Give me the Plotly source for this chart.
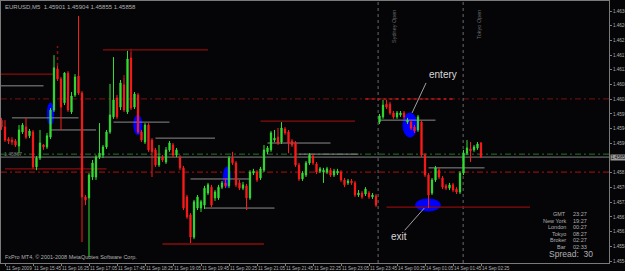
import plotly.graph_objects as go

# ---------------- data (EURUSD, M5) ----------------
OPEN = [1.45971,1.45950,1.45913,1.45910,1.45907,1.45892,1.45935,1.45950,1.45923,1.45935,
        1.45828,1.45855,1.45895,1.45889,1.45919,1.46002,1.46128,1.46097,1.46024,1.46115,
        1.45996,1.46048,1.46106,1.46054,1.45736,1.45733,1.45797,1.45797,1.45858,1.45864,
        1.45889,1.45935,1.45981,1.46039,1.46011,1.46079,1.45996,1.46161,1.46011,1.46048,
        1.45935,1.45904,1.45956,1.45910,1.45880,1.45834,1.45858,1.45843,1.45880,1.45895,
        1.45864,1.45858,1.45825,1.45736,1.45681,1.45613,1.45702,1.45702,1.45711,1.45748,
        1.45766,1.45733,1.45733,1.45766,1.45779,1.45770,1.45855,1.45840,1.45779,1.45763,
        1.45770,1.45733,1.45809,1.45812,1.45794,1.45818,1.45874,1.45880,1.45910,1.45919,
        1.45904,1.45944,1.45935,1.45907,1.45901,1.45834,1.45791,1.45803,1.45840,1.45861,
        1.45837,1.45815,1.45812,1.45812,1.45818,1.45803,1.45809,1.45812,1.45788,1.45779,
        1.45785,1.45779,1.45742,1.45748,1.45745,1.45748,1.45736,1.45739,1.45965,1.45981,
        1.46020,1.46020,1.45993,1.45981,1.45987,1.45993,1.45965,1.45965,1.45950,1.45941,
        1.45965,1.45864,1.45803,1.45748,1.45788,1.45818,1.45794,1.45770,1.45763,1.45773,
        1.45760,1.45751,1.45809,1.45870,1.45883,1.45880,1.45886,1.45901]
HIGH = [1.45978,1.45971,1.45919,1.45919,1.45913,1.45956,1.45962,1.45978,1.45944,1.45941,
        1.45861,1.45941,1.45898,1.45932,1.46008,1.46170,1.46137,1.46103,1.46118,1.46121,
        1.46057,1.46112,1.46290,1.46060,1.45742,1.45809,1.45849,1.45864,1.45962,1.45895,
        1.45941,1.46082,1.46164,1.46048,1.46094,1.46100,1.46183,1.46180,1.46057,1.46054,
        1.45941,1.45962,1.45962,1.45916,1.45886,1.45895,1.45864,1.45889,1.45907,1.45901,
        1.45886,1.45864,1.45831,1.45742,1.45687,1.45727,1.45742,1.45727,1.45770,1.45779,
        1.45773,1.45757,1.45773,1.45785,1.45794,1.45861,1.45874,1.45846,1.45788,1.45782,
        1.45776,1.45818,1.45822,1.45818,1.45828,1.45895,1.45892,1.45938,1.45941,1.45947,
        1.45965,1.45950,1.45941,1.45913,1.45907,1.45840,1.45815,1.45846,1.45870,1.45867,
        1.45843,1.45828,1.45825,1.45828,1.45825,1.45822,1.45822,1.45818,1.45794,1.45791,
        1.45791,1.45785,1.45757,1.45754,1.45766,1.45754,1.45748,1.45745,1.45990,1.46033,
        1.46033,1.46027,1.45999,1.45999,1.45999,1.45999,1.45978,1.45971,1.45956,1.45987,
        1.45971,1.45870,1.45809,1.45794,1.45831,1.45825,1.45800,1.45776,1.45779,1.45779,
        1.45766,1.45815,1.45880,1.45910,1.45904,1.45895,1.45904,1.45904]
LOW = [1.45941,1.45904,1.45898,1.45895,1.45889,1.45870,1.45929,1.45913,1.45916,1.45822,
       1.45818,1.45849,1.45880,1.45883,1.45913,1.45996,1.46091,1.45941,1.46017,1.45996,
       1.45990,1.46042,1.46048,1.45598,1.45711,1.45552,1.45788,1.45788,1.45852,1.45855,
       1.45883,1.45929,1.45975,1.45975,1.46002,1.45996,1.45990,1.46002,1.46005,1.45929,
       1.45904,1.45898,1.45874,1.45797,1.45828,1.45828,1.45843,1.45837,1.45874,1.45858,
       1.45858,1.45818,1.45696,1.45669,1.45595,1.45607,1.45696,1.45690,1.45699,1.45742,
       1.45705,1.45724,1.45727,1.45760,1.45763,1.45763,1.45834,1.45766,1.45757,1.45757,
       1.45696,1.45727,1.45803,1.45782,1.45788,1.45812,1.45867,1.45874,1.45904,1.45895,
       1.45898,1.45926,1.45870,1.45889,1.45828,1.45785,1.45785,1.45797,1.45834,1.45834,
       1.45806,1.45809,1.45779,1.45806,1.45797,1.45797,1.45803,1.45782,1.45766,1.45773,
       1.45773,1.45736,1.45736,1.45730,1.45739,1.45730,1.45730,1.45705,1.45959,1.45975,
       1.46005,1.45987,1.45975,1.45975,1.45981,1.45975,1.45959,1.45941,1.45932,1.45935,
       1.45858,1.45797,1.45702,1.45742,1.45782,1.45791,1.45760,1.45757,1.45757,1.45751,
       1.45745,1.45745,1.45803,1.45864,1.45843,1.45874,1.45880,1.45855]
CLOSE = [1.45950,1.45910,1.45907,1.45904,1.45895,1.45941,1.45956,1.45919,1.45938,1.45828,
         1.45855,1.45901,1.45889,1.45923,1.46002,1.46131,1.46097,1.46011,1.46115,1.46002,
         1.46045,1.46103,1.46054,1.45736,1.45727,1.45803,1.45840,1.45858,1.45870,1.45889,
         1.45935,1.45987,1.46033,1.45981,1.46085,1.46002,1.46158,1.46008,1.46051,1.45935,
         1.45910,1.45956,1.45880,1.45874,1.45834,1.45858,1.45849,1.45880,1.45901,1.45864,
         1.45880,1.45825,1.45702,1.45675,1.45613,1.45721,1.45736,1.45721,1.45763,1.45773,
         1.45711,1.45751,1.45766,1.45779,1.45770,1.45855,1.45840,1.45773,1.45763,1.45773,
         1.45733,1.45812,1.45815,1.45788,1.45822,1.45880,1.45886,1.45932,1.45916,1.45901,
         1.45947,1.45932,1.45901,1.45895,1.45834,1.45791,1.45809,1.45840,1.45864,1.45840,
         1.45812,1.45822,1.45818,1.45822,1.45803,1.45815,1.45815,1.45788,1.45773,1.45785,
         1.45779,1.45742,1.45748,1.45736,1.45760,1.45736,1.45742,1.45711,1.45984,1.46017,
         1.46011,1.45993,1.45981,1.45993,1.45993,1.45981,1.45971,1.45947,1.45938,1.45981,
         1.45864,1.45803,1.45742,1.45788,1.45825,1.45797,1.45766,1.45763,1.45773,1.45757,
         1.45751,1.45809,1.45870,1.45886,1.45877,1.45889,1.45898,1.45858]
BARS = list(range(len(OPEN)))

TIME_TICK_BARS = [1, 9, 17, 25, 33, 41, 49, 57, 65, 73, 81, 89, 97, 105, 113, 121, 129, 137]
TIME_LABELS = ["11 Sep 2009", "11 Sep 15:45", "11 Sep 16:25", "11 Sep 17:05", "11 Sep 17:45",
               "11 Sep 18:25", "11 Sep 19:05", "11 Sep 19:45", "11 Sep 20:25", "11 Sep 21:05",
               "11 Sep 21:45", "11 Sep 22:25", "11 Sep 23:05", "11 Sep 23:45", "14 Sep 00:25",
               "14 Sep 01:05", "14 Sep 01:45", "14 Sep 02:25"]
PRICE_TICKS = [1.46305, 1.46260, 1.46215, 1.46170, 1.46125, 1.46080, 1.46035, 1.45990,
               1.45945, 1.45900, 1.45810, 1.45765, 1.45720, 1.45675, 1.45630, 1.45585, 1.45540]

# grey short levels: start bar, end bar, price
GREY_START = [-1, 3, 14, 32, 44, 54, 76, 85, 58, 108, 122]
GREY_END   = [12, 22, 27, 48, 61, 71, 94, 102, 78, 124, 138]
GREY_LEVEL = [1.46076, 1.45978, 1.45941, 1.45965, 1.45916, 1.45791, 1.45901, 1.45867, 1.45702, 1.45971, 1.45825]
# dark red short levels
DRED_START = [29, -1, 1, 74, 46, 110]
DRED_END   = [59, 15, 30, 101, 75, 151]
DRED_LEVEL = [1.46186, 1.46112, 1.45822, 1.45968, 1.45592, 1.45705]
# full width dash-dot levels
GREEN_LEVEL = 1.45867
RED_LEVEL = 1.45812
UPPER_LEVEL = 1.46036
UPPER_SEG = [104, 129]
# dotted fractal marks: bar, from price, to price
FRACTAL_BARS = [16, 35, 37]
FRACTAL_FROM = [1.46137, 1.46100, 1.46180]
FRACTAL_TO = [1.46198, 1.46118, 1.46198]
# marked ellipses: bar from, bar to, price low, price high
ELL_X0 = [13.1, 37.8, 63.4, 114.7, 118.3]
ELL_X1 = [14.9, 40.1, 65.4, 118.7, 125.4]
ELL_Y0 = [1.45956, 1.45926, 1.45766, 1.45919, 1.45693]
ELL_Y1 = [1.46024, 1.45987, 1.45828, 1.45993, 1.45730]
SESSION_BARS = [107.6, 131.9]
SESSION_NAMES = ["Sydney Open", "Tokyo Open"]

INFO_NAMES = ["GMT", "New York", "London", "Tokyo", "Broker", "Bar"]
INFO_TIMES = ["23:27", "19:27", "00:27", "08:27", "02:27", "02:33"]
SPREAD = 30

# ---------------- figure ----------------
BG = "#050507"
GREEN = "#33dd33"
RED = "#ff1a1a"
TXT = "#b0b0b0"
FONT = "Liberation Sans"

fig = go.Figure()
fig.add_trace(go.Candlestick(
    x=BARS, open=OPEN, high=HIGH, low=LOW, close=CLOSE,
    increasing=dict(line=dict(color=GREEN, width=1), fillcolor=GREEN),
    decreasing=dict(line=dict(color=RED, width=1), fillcolor=RED),
    whiskerwidth=0, hoverinfo="skip", showlegend=False))

shapes = []
for x0, x1, y0, y1 in zip(ELL_X0, ELL_X1, ELL_Y0, ELL_Y1):
    shapes.append(dict(type="circle", xref="x", yref="y", x0=x0, x1=x1, y0=y0, y1=y1,
                       fillcolor="#0000ff", line=dict(color="#0000ff", width=1), layer="below"))
for yv, col in [(UPPER_LEVEL, "#7a1010"), (GREEN_LEVEL, "#1f7a1f"), (RED_LEVEL, "#b01010")]:
    shapes.append(dict(type="line", xref="paper", yref="y", x0=0, x1=1, y0=yv, y1=yv,
                       line=dict(color=col, width=1, dash="6px,3px,2px,3px"), layer="below"))
shapes.append(dict(type="line", xref="x", yref="y", x0=UPPER_SEG[0], x1=UPPER_SEG[1],
                   y0=UPPER_LEVEL, y1=UPPER_LEVEL,
                   line=dict(color="#c01818", width=1.5, dash="dot"), layer="below"))
for xb, f0, f1 in zip(FRACTAL_BARS, FRACTAL_FROM, FRACTAL_TO):
    shapes.append(dict(type="line", xref="x", yref="y", x0=xb, x1=xb, y0=f0, y1=f1,
                       line=dict(color="#8a1010", width=1.5, dash="dot"), layer="below"))
shapes.append(dict(type="line", xref="paper", yref="y", x0=0, x1=1, y0=CLOSE[-1], y1=CLOSE[-1],
                   line=dict(color="#808080", width=1), layer="below"))
for s, e, yv in zip(GREY_START, GREY_END, GREY_LEVEL):
    shapes.append(dict(type="line", xref="x", yref="y", x0=s, x1=e, y0=yv, y1=yv,
                       line=dict(color="#8c8c8c", width=1), layer="below"))
for s, e, yv in zip(DRED_START, DRED_END, DRED_LEVEL):
    shapes.append(dict(type="line", xref="x", yref="y", x0=s, x1=e, y0=yv, y1=yv,
                       line=dict(color="#8a0c0c", width=1.3), layer="below"))
for xb in SESSION_BARS:
    shapes.append(dict(type="line", xref="x", yref="paper", x0=xb, x1=xb, y0=0, y1=1,
                       line=dict(color="#6a6a6a", width=1, dash="dot"), layer="below"))
# annotation pointers
shapes.append(dict(type="line", xref="x", yref="y", x0=121.3, x1=117.3, y0=1.46085, y1=1.45993,
                   line=dict(color="#a0a0a0", width=1)))
shapes.append(dict(type="line", xref="x", yref="y", x0=115.2, x1=120.8, y0=1.45634, y1=1.45702,
                   line=dict(color="#a0a0a0", width=1)))

ann = []
ann.append(dict(text="EURUSD,M5  %.5f %.5f %.5f %.5f" % (OPEN[-1], HIGH[-1], LOW[-1], CLOSE[-1]),
                xref="paper", yref="paper", x=0.003, y=0.997, xanchor="left", yanchor="top",
                showarrow=False, font=dict(size=6, color=TXT, family=FONT)))
ann.append(dict(text="FxPro MT4, \u00a9 2001-2008 MetaQuotes Software Corp.",
                xref="paper", yref="paper", x=0.003, y=0.003, xanchor="left", yanchor="bottom",
                showarrow=False, font=dict(size=5.5, color=TXT, family=FONT)))
ann.append(dict(text=f"{GREEN_LEVEL:.5f}", xref="paper", yref="y", x=0.004, y=GREEN_LEVEL,
                xanchor="left", yanchor="middle", showarrow=False, borderpad=0,
                font=dict(size=5, color="#7a7a7a", family=FONT)))
for xb, nm in zip(SESSION_BARS, SESSION_NAMES):
    ann.append(dict(text=nm, xref="x", yref="paper", x=xb + 4.5, y=0.975, xanchor="center",
                    yanchor="top", textangle=-90, showarrow=False,
                    font=dict(size=5.5, color="#6a6a6a", family=FONT)))
ann.append(dict(text="entery", xref="x", yref="y", x=126, y=1.46112, showarrow=False,
                font=dict(size=10, color="#d8d8d8", family=FONT)))
ann.append(dict(text="exit", xref="x", yref="y", x=113.5, y=1.45615, showarrow=False,
                font=dict(size=10, color="#d8d8d8", family=FONT)))
ann.append(dict(text=f"{CLOSE[-1]:.5f}", xref="paper", yref="y", x=1, y=CLOSE[-1],
                xanchor="left", xshift=1, showarrow=False, bgcolor="#9a9a9a", borderpad=0,
                font=dict(size=4.6, color="#101010", family=FONT)))
for k, (nm, tm) in enumerate(zip(INFO_NAMES, INFO_TIMES)):
    yy = (263 - (214 + 6.6 * k)) / 262
    ann.append(dict(text=nm, xref="paper", yref="paper", x=(567 - 1) / 608, y=yy, xanchor="right",
                    yanchor="middle", showarrow=False, borderpad=0,
                    font=dict(size=5.5, color=TXT, family=FONT)))
    ann.append(dict(text=tm, xref="paper", yref="paper", x=(572 - 1) / 608, y=yy, xanchor="left",
                    yanchor="middle", showarrow=False, borderpad=0,
                    font=dict(size=5.5, color=TXT, family=FONT)))
ann.append(dict(text=f"Spread:  {SPREAD}", xref="paper", yref="paper", x=(548 - 1) / 608,
                y=(263 - 254) / 262, xanchor="left", yanchor="middle", showarrow=False, borderpad=0,
                font=dict(size=8.5, color=TXT, family=FONT)))

fig.update_layout(
    width=625, height=271, autosize=False,
    margin=dict(l=1, r=16, t=1, b=8, pad=0),
    paper_bgcolor=BG, plot_bgcolor=BG,
    boxgap=0.5,
    shapes=shapes, annotations=ann,
    showlegend=False,
    font=dict(family=FONT, color=TXT),
    xaxis=dict(range=[-0.143, 173.57], showgrid=False, zeroline=False, automargin=False,
               rangeslider=dict(visible=False),
               tickmode="array", tickvals=TIME_TICK_BARS, ticktext=TIME_LABELS,
               tickangle=0,
               ticks="outside", ticklen=2, tickcolor="#808080",
               ticklabelposition="outside right",
               tickfont=dict(size=4.6, color=TXT, family=FONT),
               showline=True, linecolor="#7a7a7a", linewidth=1, mirror=True),
    yaxis=dict(range=[1.455339, 1.463356], side="right", showgrid=False, zeroline=False,
               automargin=False,
               tickmode="array", tickvals=PRICE_TICKS, tickformat=".5f",
               ticks="outside", ticklen=2, tickcolor="#808080",
               tickfont=dict(size=4.6, color=TXT, family=FONT),
               showline=True, linecolor="#7a7a7a", linewidth=1, mirror=True),
)

fig.write_html("out.html")
